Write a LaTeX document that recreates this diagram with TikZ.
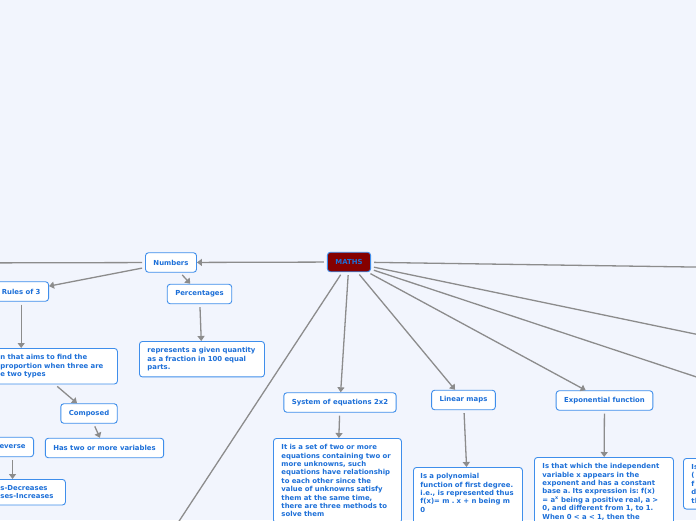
\documentclass[tikz,border=0pt]{standalone}
\usepackage{fontspec}
\newfontfamily\mapfont{DejaVu Sans}
\usetikzlibrary{positioning, arrows.meta, calc}
\definecolor{mapbg}{HTML}{F2F5FD}
\definecolor{mapblue}{HTML}{1C6FD8}
\definecolor{mapedge}{HTML}{3F8EEB}
\definecolor{mapred}{HTML}{850000}
\definecolor{mapgrey}{HTML}{8C8C8C}
\frenchspacing
\tikzset{
  topic/.style={draw=mapedge, fill=white, rounded corners=3pt, line width=0.9pt,
    text=mapblue, inner xsep=8pt, inner ysep=0pt, minimum height=19.5pt},
  note/.style={topic, align=left, inner ysep=6pt},
  link/.style={draw=mapgrey, line width=1.3pt, shorten <=3pt,
    -{Triangle[length=5pt,width=7pt]}},
}
\begin{document}
\begin{tikzpicture}[x=1pt, y=-1pt, font=\mapfont\bfseries\fontsize{6.9}{8.4}\selectfont]
    \useasboundingbox (0,0) rectangle (696,520);
    \clip (0,0) rectangle (696,520);
    \fill[mapbg] (0,0) rectangle (696,520);

    % main topic and left branch
    \node[topic, fill=mapred] (maths) at (349,262) {MATHS};
    \node[topic] (numbers) at (171,262.5) {Numbers};
    \node[topic, anchor=east] (rules) at (49,291.5) {Rules of 3};
    \node[topic] (percent) at (199.5,294) {Percentages};
    \node[note, text width=109pt, anchor=north west] (pdesc) at (139,341)
          {represents a given quantity\\as a fraction in 100 equal\\parts.};
    \node[note, text width=109pt, anchor=north west] (rdesc) at (-8,348)
          {n that aims to find the\\proportion when three are\\e two types};
    \node[topic] (composed) at (89,413.5) {Composed};
    \node[topic] (twovars) at (104.5,448) {Has two or more variables};
    \node[topic, anchor=east] (reverse) at (34,447) {everse};
    \node[note, text width=57pt, anchor=north west] (incr) at (-8,479)
          {s-Decreases\\ses-Increases};

    % lower branches
    \node[topic] (system) at (340,402.5) {System of equations 2x2};
    \node[note, text width=112pt, anchor=north west] (sdesc) at (273,438)
          {It is a set of two or more\\equations containing two or\\more unknowns, such\\equations have relationship\\to each other since the\\value of unknowns satisfy\\them at the same time,\\there are three methods to\\solve them};
    \node[topic] (linear) at (463.5,400) {Linear maps};
    \node[note, text width=95pt, inner xsep=7pt, anchor=north west] (ldesc) at (413,467)
          {Is a polynomial\\function of first degree.\\i.e., is represented thus\\f(x)= m . x + n being m\\0\rule[-9pt]{0pt}{1pt}};
    \node[topic] (expo) at (604.5,400.5) {Exponential function};
    \node[note, text width=123pt, anchor=north west] (edesc) at (534,457)
          {Is that which the independent\\variable x appears in the\\exponent and has a constant\\base a. Its expression is: f(x)\\= a\textsuperscript{x} being a positive real, a >\\0, and different from 1, to 1.\\When 0 < a < 1, then the};
    \node[note, text width=40pt, anchor=north west] (rnode) at (683,458)
          {Is\\(\\f\\d\\th};

    % free ends outside the frame
    \coordinate (farleft) at (-60,263);
    \coordinate (outa) at (760,268);
    \coordinate (outb) at (760,347.5);
    \coordinate (outc) at (760,398);
    \coordinate (outd) at (147,570);

    \draw[link] (maths) -- (numbers);
    \draw[link] (numbers) -- (farleft);
    \draw[link] (numbers) -- (rules);
    \draw[link] (numbers) -- (percent);
    \draw[link] (percent) -- (pdesc);
    \draw[link] (rules) -- (rules |- rdesc.north);
    \draw[link] (rdesc.south) -- (composed);
    \draw[link] (composed) -- (twovars);
    \draw[link] (reverse) -- (reverse |- incr.north);
    \draw[link] (maths) -- (system);
    \draw[link] (system) -- (sdesc);
    \draw[link] (maths) -- (linear);
    \draw[link] (linear) -- (ldesc);
    \draw[link] (maths) -- (expo);
    \draw[link] (expo) -- (edesc);
    \draw[link] (maths) -- (outa);
    \draw[link] (maths) -- (outb);
    \draw[link] (maths) -- (outc);
    \draw[link] (maths) -- (outd);
\end{tikzpicture}
\end{document}
